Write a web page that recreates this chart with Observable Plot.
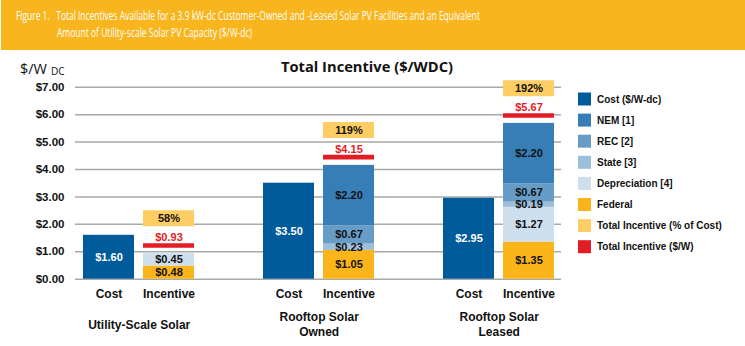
<!DOCTYPE html>
<html><head><meta charset="utf-8">
<script src="https://cdn.jsdelivr.net/npm/d3@7"></script>
<script src="https://cdn.jsdelivr.net/npm/@observablehq/plot@0.6"></script>
<style>
html,body{margin:0;padding:0;background:#fff;}
#wrap{position:relative;width:745px;height:346px;overflow:hidden;background:#fff;}
#wrap svg{position:absolute;left:0;top:0;}
#wrap svg.plotsvg g[aria-label^="y-axis"] text{font-size:11.5px;}
</style></head><body><div id="wrap"></div>
<script>
// ---- data ----
const groups = ["Utility-Scale Solar", "Rooftop Solar\nOwned", "Rooftop Solar\nLeased"];
const groupKeys = ["U", "O", "L"];
const barTypes = ["Cost", "Incentive"];
const cost = [1.60, 3.50, 2.95];
const federal = [0.48, 1.05, 1.35];
const depreciation = [0.45, 0, 1.27];
const stateInc = [0, 0.23, 0.19];
const rec = [0, 0.67, 0.67];
const nem = [0, 2.20, 2.20];
const totalDollar = [0.93, 4.15, 5.67];
const totalPct = [58, 119, 192];
const yTicks = [0, 1, 2, 3, 4, 5, 6, 7];
const legendLabels = ["Cost ($/W-dc)", "NEM [1]", "REC [2]", "State [3]", "Depreciation [4]", "Federal", "Total Incentive (% of Cost)", "Total Incentive ($/W)"];
const legendColors = ["#005b9b", "#367eb5", "#679cc7", "#9ebfdc", "#cddfed", "#fbb41a", "#fecd64", "#e31d25"];
const headerLine1 = "Figure 1.\u00a0\u00a0\u00a0Total Incentives Available for a 3.9 kW-dc Customer-Owned and -Leased Solar PV Facilities and an Equivalent";
const headerLine2 = "Amount of Utility-scale Solar PV Capacity ($/W-dc)";
const chartTitle = "Total Incentive ($/WDC)";

// ---- tables ----
const xDomain = [];
groupKeys.forEach((k, i) => { if (i > 0) xDomain.push("gap" + i); barTypes.forEach(b => xDomain.push(k + "|" + b)); });
const costRows = groupKeys.map((k, i) => ({key: k + "|Cost", value: cost[i], series: legendLabels[0]}));
const segRows = [];
groupKeys.forEach((k, i) => {
  [["Federal", federal], ["Depreciation [4]", depreciation], ["State [3]", stateInc], ["REC [2]", rec], ["NEM [1]", nem]]
    .forEach(([s, arr]) => { if (arr[i] > 0) segRows.push({key: k + "|Incentive", value: arr[i], series: s}); });
});
const totRows = groupKeys.map((k, i) => ({key: k + "|Incentive", total: totalDollar[i], pct: totalPct[i]}));
const groupRows = groupKeys.map((k, i) => ({key: k + "|Cost", label: groups[i]}));
const money = v => "$" + v.toFixed(2);

const chart = Plot.plot({
  width: 745, height: 346,
  marginLeft: 75, marginRight: 184, marginTop: 86.7, marginBottom: 67.3,
  style: "background:transparent;font-family:'Liberation Sans',Arial,sans-serif;font-size:12px;font-weight:bold;color:#111;overflow:visible;",
  x: {domain: xDomain, paddingInner: 0.156, paddingOuter: 0.1, align: 0.5, tickSize: 0, tickPadding: 10,
      tickFormat: d => d.includes("|") ? d.split("|")[1] : "", label: null},
  y: {domain: [0, 7], ticks: yTicks, tickFormat: d => "$" + d.toFixed(2), tickSize: 0, tickPadding: 11, label: null},
  color: {domain: legendLabels, range: legendColors},
  marks: [
    Plot.ruleY(yTicks, {stroke: "#a9a9a9", strokeWidth: 1.5}),
    Plot.barY(costRows, {x: "key", y: "value", fill: "series"}),
    Plot.barY(segRows, {x: "key", y: "value", fill: "series"}),
    Plot.text(costRows, {x: "key", y: d => d.value / 2, text: d => money(d.value), fill: "white", fontSize: 11}),
    Plot.text(segRows, Plot.stackY({x: "key", y: "value", text: d => money(d.value), fill: "#111", fontSize: 11})),
    Plot.tickY(totRows, {x: "key", y: "total", stroke: () => legendLabels[7], strokeWidth: 4.7, dy: -8.2}),
    Plot.text(totRows, {x: "key", y: "total", dy: -16.2, text: d => money(d.total), fill: legendColors[7], fontSize: 11}),
    Plot.tickY(totRows, {x: "key", y: "total", stroke: () => legendLabels[6], strokeWidth: 16, dy: -35.4}),
    Plot.text(totRows, {x: "key", y: "total", dy: -35.4, text: d => d.pct + "%", fill: "#111", fontSize: 11}),
    Plot.text(groupRows, {x: "key", y: () => 0, dx: 30.2, dy: 44.8, text: "label", lineAnchor: "middle", lineHeight: 1.25, fontSize: 12, fill: "#111"})
  ]
});
chart.classList.add("plotsvg");
document.getElementById("wrap").appendChild(chart);

// ---- overlay: header, title, unit label, legend ----
const ov = d3.select("#wrap").append("svg").attr("width", 745).attr("height", 346).style("pointer-events", "none");
ov.append("rect").attr("x", 1).attr("y", 0).attr("width", 744).attr("height", 50).attr("fill", "#f8b51d");
const hfont = "'Open Sans','Noto Sans',sans-serif";
ov.append("text").attr("x", 16).attr("y", 20).attr("fill", "#fff").attr("font-family", hfont).attr("font-size", 12)
  .attr("textLength", 464).attr("lengthAdjust", "spacingAndGlyphs").text(headerLine1);
ov.append("text").attr("x", 57).attr("y", 37).attr("fill", "#fff").attr("font-family", hfont).attr("font-size", 12)
  .attr("textLength", 195).attr("lengthAdjust", "spacingAndGlyphs").text(headerLine2);
ov.append("text").attr("x", 281).attr("y", 72).attr("fill", "#111").attr("font-family", hfont).attr("font-weight", "bold")
  .attr("font-size", 15).attr("textLength", 172).attr("lengthAdjust", "spacingAndGlyphs").text(chartTitle);
const unit = ov.append("text").attr("x", 20).attr("y", 74).attr("fill", "#111").attr("font-family", hfont).attr("font-size", 14);
unit.append("tspan").attr("textLength", 27).attr("lengthAdjust", "spacingAndGlyphs").text("$/W");
unit.append("tspan").attr("x", 51).attr("y", 75).attr("font-size", 10).text("DC");
const lg = ov.append("g").attr("font-family", "'Liberation Sans',Arial,sans-serif").attr("font-weight", "bold").attr("font-size", 10);
legendLabels.forEach((l, i) => {
  const cy = 99 + i * 21.1;
  lg.append("rect").attr("x", 578).attr("y", cy - 6.5).attr("width", 13).attr("height", 13).attr("fill", legendColors[i]);
  lg.append("text").attr("x", 597).attr("y", cy).attr("dy", "0.35em").attr("fill", "#111").text(l);
});
</script>
</body></html>
